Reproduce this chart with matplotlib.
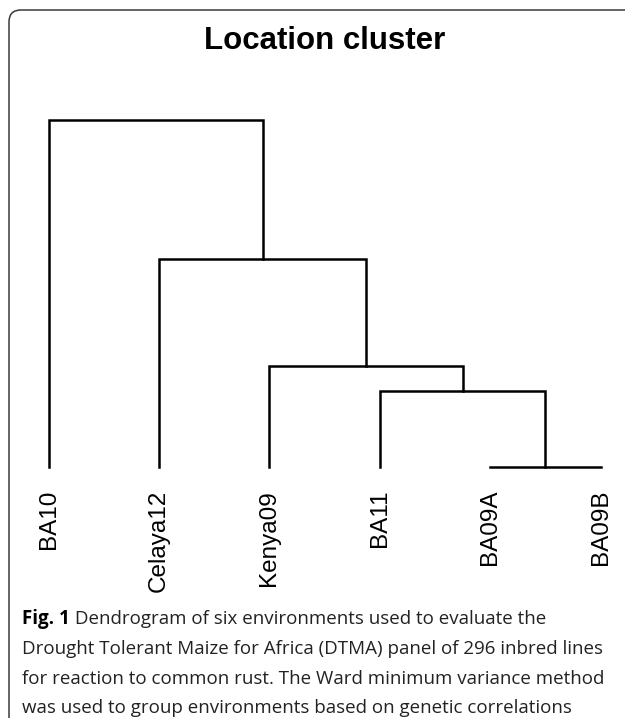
import matplotlib.pyplot as plt
from matplotlib.patches import FancyBboxPatch

# leaf order as drawn, left to right
leaves = ["BA10", "Celaya12", "Kenya09", "BA11", "BA09A", "BA09B"]

# hclust-style merges: negative = leaf (1-based), positive = earlier merge
merge_left = [-5, -4, -3, -2, -1]
merge_right = [-6, 1, 2, 3, 4]
merge_height = [0.0, 0.22, 0.29, 0.60, 1.0]

title = "Location cluster"
caption_bold = "Fig. 1"
caption_lines = [
    " Dendrogram of six environments used to evaluate the",
    "Drought Tolerant Maize for Africa (DTMA) panel of 296 inbred lines",
    "for reaction to common rust. The Ward minimum variance method",
    "was used to group environments based on genetic correlations",
]

W, H = 625, 718
fig = plt.figure(figsize=(W / 100, H / 100), dpi=100)

# rounded frame, open to the right and bottom
frame = FancyBboxPatch((0.09, -0.5), 8.0, 7.08 + 0.5,
                       boxstyle="round,pad=0,rounding_size=0.12",
                       transform=fig.dpi_scale_trans, fill=False,
                       edgecolor="#3a3a3a", linewidth=1.1)
fig.patches.append(frame)

ax = fig.add_axes([48.7 / W, (H - 467) / H, 552 / W, 347.5 / H])
ax.set_xlim(1, 6)
ax.set_ylim(0, 1)
ax.axis("off")

lw = 1.8
pos = {}  # merge index -> (x, height)


def node(i):
    if i < 0:
        return -i, 0.0
    return pos[i]


for k, (a, b, h) in enumerate(zip(merge_left, merge_right, merge_height), start=1):
    xa, ha = node(a)
    xb, hb = node(b)
    ax.plot([xa, xa, xb, xb], [ha, h, h, hb], color="black", lw=lw,
            clip_on=False, solid_joinstyle="miter")
    pos[k] = ((xa + xb) / 2, h)

for i, lab in enumerate(leaves, start=1):
    ax.annotate(lab, xy=(i, 0), xytext=(0, -16.5), textcoords="offset points",
                rotation=90, ha="center", va="top", fontsize=17.5,
                family="Liberation Sans")

fig.text(325 / W, 1 - 49 / H, title, ha="center", va="baseline",
         fontsize=22.5, fontweight="bold", family="Liberation Sans")

# caption
cap_font = dict(family="Open Sans", fontsize=13.5)
baselines = [624, 654, 684, 713]
x0 = 22 / W
t = fig.text(x0, 1 - baselines[0] / H, caption_bold, va="baseline",
             fontweight="bold", **cap_font)
fig.canvas.draw()
bb = t.get_window_extent()
fig.text(bb.x1 / W, 1 - baselines[0] / H, caption_lines[0], va="baseline",
         color="#222222", **cap_font)
for yb, line in zip(baselines[1:], caption_lines[1:]):
    fig.text(x0, 1 - yb / H, line, va="baseline", color="#222222", **cap_font)

fig.savefig("out.png", dpi=100)
